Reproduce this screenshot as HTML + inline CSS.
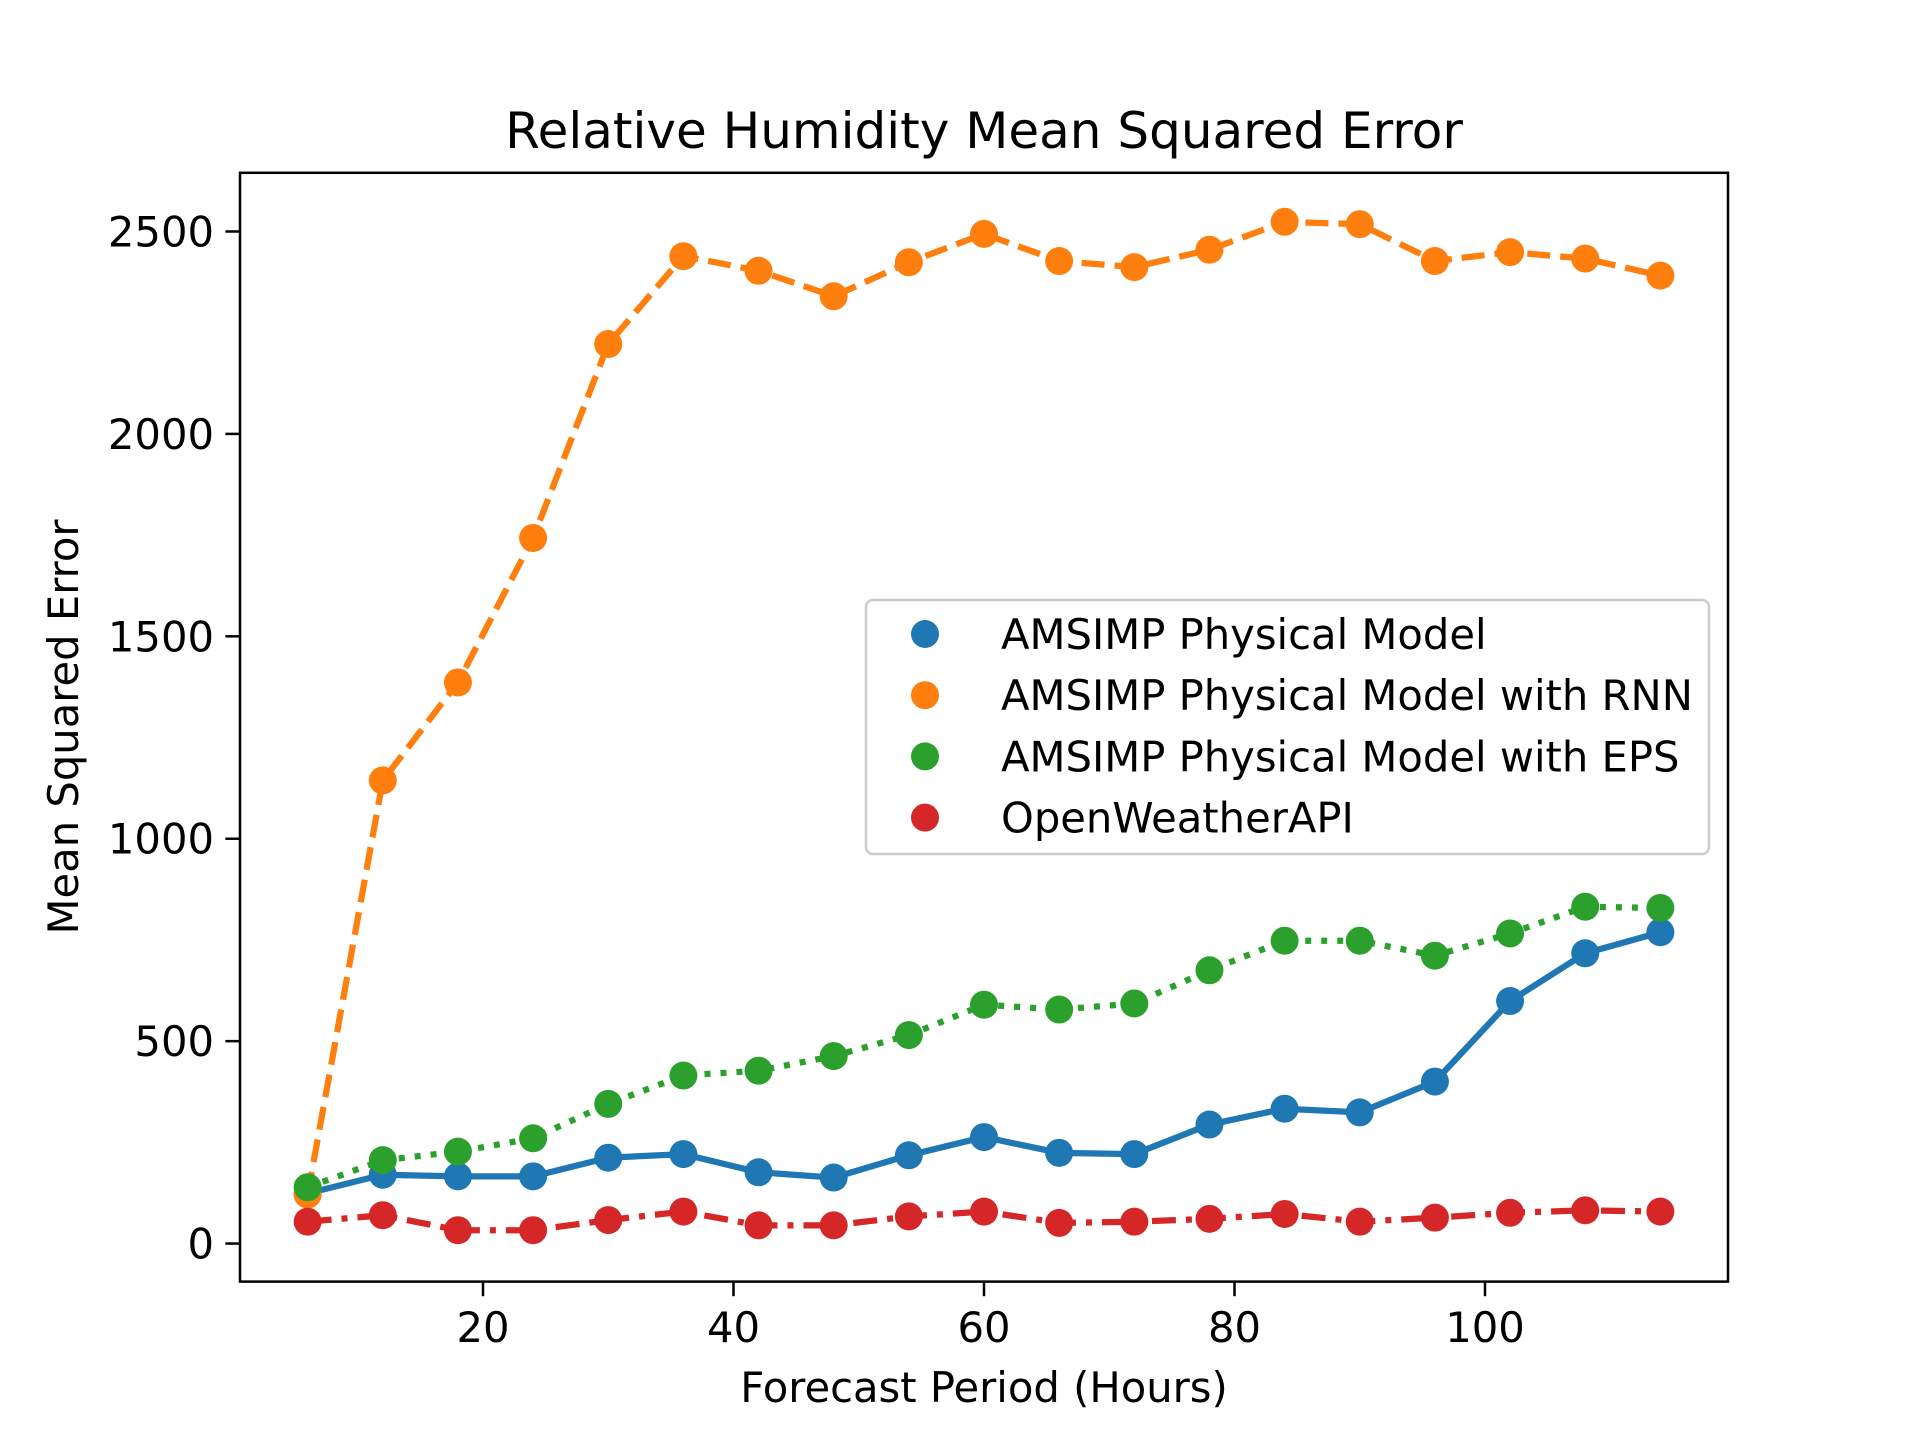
<!DOCTYPE html>
<html><head><meta charset="utf-8"><style>
body{margin:0;background:#fff;}
svg{display:block;font-family:"DejaVu Sans","Liberation Sans",sans-serif;}
</style></head><body>
<svg id="chart" width="1920" height="1440" viewBox="0 0 1920 1440" xmlns="http://www.w3.org/2000/svg">
<rect width="1920" height="1440" fill="#fff"/>
<text x="984" y="148" font-size="50" text-anchor="middle">Relative Humidity Mean Squared Error</text>
<text x="984" y="1402" font-size="41.7" text-anchor="middle">Forecast Period (Hours)</text>
<text transform="translate(78,727) rotate(-90)" font-size="41.7" text-anchor="middle">Mean Squared Error</text>
<g id="plot"></g>
<rect x="240" y="172.8" width="1488" height="1108.8" fill="none" stroke="#000" stroke-width="2.5"/>
<g id="legend">
<rect x="866" y="600" width="843" height="254" rx="7" fill="#fff" fill-opacity="0.8" stroke="#ccc" stroke-width="2.5"/>
</g>
</svg>
<script>
const hours=[6,12,18,24,30,36,42,48,54,60,66,72,78,84,90,96,102,108,114];
const physical=[124,170,166,166,212,221,176,163,218,263,224,221,294,333,324,400,599,717,769];
const withRnn=[121,1144,1386,1743,2222,2439,2403,2340,2424,2494,2427,2412,2455,2524,2518,2427,2449,2433,2391];
const withEps=[139,206,227,260,345,415,427,463,515,590,578,593,675,748,748,711,766,832,829];
const openWeather=[54,70,33,33,58,79,45,45,67,79,51,54,61,73,54,64,76,82,79];
const xTicks=[20,40,60,80,100];
const yTicks=[0,500,1000,1500,2000,2500];
const seriesNames=["AMSIMP Physical Model","AMSIMP Physical Model with RNN","AMSIMP Physical Model with EPS","OpenWeatherAPI"];

const NS="http://www.w3.org/2000/svg";
const X=v=>240+(v-0.6)/(119.4-0.6)*1488;
const Y=v=>1281.6-(v+94)/(2645+94)*1108.8;
const plot=document.getElementById('plot');
function mk(tag,attrs,parent){const e=document.createElementNS(NS,tag);for(const k in attrs)e.setAttribute(k,attrs[k]);(parent||plot).appendChild(e);return e;}
const svg=document.getElementById('chart');
xTicks.forEach(t=>{
  const l=mk('line',{x1:X(t),x2:X(t),y1:1281.6,y2:1296.2,stroke:'#000','stroke-width':2.5},svg);
  
  
  const tx=mk('text',{x:X(t),y:1342,'font-size':41.7,'text-anchor':'middle'},svg);tx.textContent=t;
  
  
});
yTicks.forEach(t=>{
  const l=mk('line',{x1:225.4,x2:240,y1:Y(t),y2:Y(t),stroke:'#000','stroke-width':2.5},svg);
  
  
  const tx=mk('text',{x:214,y:Y(t)+15,'font-size':41.7,'text-anchor':'end'},svg);tx.textContent=t;
  
  
});
const series=[
 {d:physical,c:'#1f77b4',dash:'',name:'series-physical'},
 {d:withRnn,c:'#ff7f0e',dash:'23 10',name:'series-rnn'},
 {d:withEps,c:'#2ca02c',dash:'6 10',name:'series-eps'},
 {d:openWeather,c:'#d62728',dash:'24 10 6 10',name:'series-openweather'}
];
series.forEach(s=>{
  const g=mk('g',{});
  
  
  const p=mk('polyline',{points:hours.map((h,i)=>X(h)+','+Y(s.d[i])).join(' '),fill:'none',stroke:s.c,'stroke-width':6.25,'stroke-dasharray':s.dash},g);
  
  
});
series.forEach(s=>{
  hours.forEach((h,i)=>{
    const c=mk('circle',{cx:X(h),cy:Y(s.d[i]),r:14,fill:s.c});
    
    
  });
});
const leg=document.getElementById('legend');
seriesNames.forEach((n,i)=>{
  const y=634+i*61.2;
  const c=mk('circle',{cx:925,cy:y,r:14,fill:series[i].c},leg);
  
  
  const t=mk('text',{x:1001,y:y+15,'font-size':41.7},leg);t.textContent=n;
  
  
});
</script>
</body></html>
